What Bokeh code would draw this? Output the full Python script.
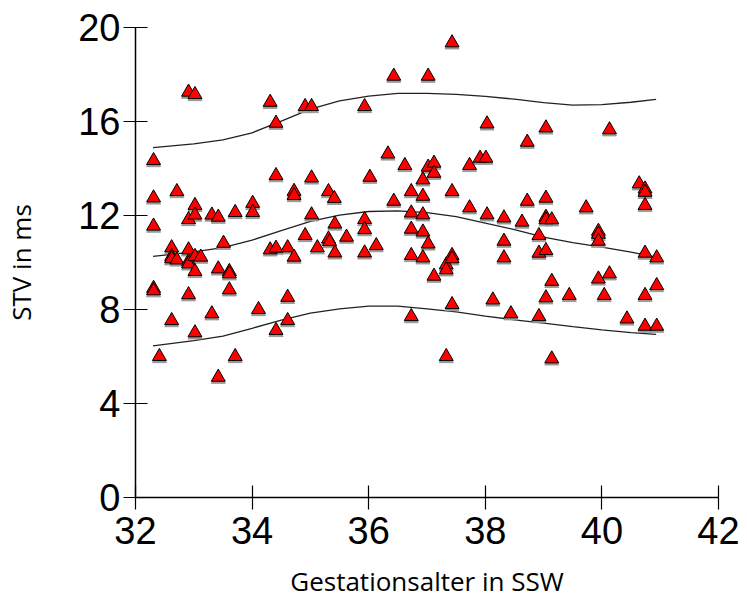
from bokeh.plotting import figure
from bokeh.models import Range1d, FixedTicker, ColumnDataSource
from bokeh.transform import dodge
from bokeh.embed import file_html
from bokeh.resources import INLINE

# Gestational age (SSW) and STV (ms) of each measurement
age = [32.31, 32.31, 32.31, 32.31, 32.31, 32.41, 32.62, 32.62, 32.62, 32.62,
       32.71, 32.71, 32.91, 32.91, 32.91, 32.91, 32.91, 32.91, 33.02, 33.02,
       33.02, 33.02, 33.02, 33.02, 33.12, 33.31, 33.31, 33.42, 33.42, 33.42,
       33.51, 33.61, 33.61, 33.61, 33.71, 33.71, 34.01, 34.01, 34.11, 34.31,
       34.31, 34.41, 34.41, 34.41, 34.41, 34.61, 34.61, 34.61, 34.72, 34.72,
       34.72, 34.91, 34.91, 35.02, 35.02, 35.02, 35.12, 35.31, 35.31, 35.33,
       35.41, 35.42, 35.42, 35.62, 35.93, 35.93, 35.93, 35.93, 36.02, 36.13,
       36.33, 36.43, 36.43, 36.62, 36.73, 36.73, 36.73, 36.73, 36.73, 36.93,
       36.93, 36.93, 36.93, 36.93, 37.02, 37.02, 37.02, 37.12, 37.12, 37.12,
       37.33, 37.33, 37.33, 37.43, 37.43, 37.43, 37.43, 37.43, 37.73, 37.73,
       37.91, 38.01, 38.03, 38.03, 38.13, 38.32, 38.32, 38.32, 38.44, 38.63,
       38.72, 38.72, 38.92, 38.92, 38.92, 39.04, 39.04, 39.04, 39.04, 39.04,
       39.04, 39.14, 39.14, 39.14, 39.44, 39.73, 39.94, 39.94, 39.94, 39.94,
       40.04, 40.13, 40.13, 40.43, 40.64, 40.74, 40.74, 40.74, 40.74, 40.74,
       40.74, 40.94, 40.94, 40.94]
stv = [14.34, 12.75, 11.55, 8.90, 8.80, 6.00, 10.63, 10.26, 10.16, 7.53,
       13.02, 10.11, 17.25, 11.83, 10.54, 10.05, 9.94, 8.63, 17.15, 12.43,
       12.02, 10.26, 9.62, 7.01, 10.23, 12.02, 7.82, 11.93, 9.73, 5.12,
       10.82, 9.62, 9.52, 8.84, 12.13, 6.00, 12.52, 12.13, 8.00, 16.82,
       10.54, 15.93, 13.70, 10.61, 7.11, 10.63, 8.52, 7.53, 13.03, 12.85,
       10.23, 16.64, 11.15, 16.64, 13.60, 12.03, 10.63, 13.02, 11.00, 10.89,
       12.73, 11.64, 10.41, 11.08, 16.64, 11.83, 11.40, 10.41, 13.63, 10.72,
       14.62, 17.93, 12.61, 14.13, 13.02, 12.11, 11.42, 10.30, 7.70, 13.52,
       12.82, 12.03, 11.30, 10.20, 17.93, 14.06, 10.79, 14.23, 13.80, 9.42,
       9.90, 9.69, 6.00, 19.35, 13.02, 10.30, 10.16, 8.21, 14.13, 12.33,
       14.44, 14.44, 15.90, 12.03, 8.41, 11.90, 10.91, 10.20, 7.82, 11.72,
       15.12, 12.61, 11.15, 10.40, 7.70, 15.73, 12.74, 11.93, 11.82, 10.51,
       8.50, 11.82, 9.20, 5.90, 8.60, 12.33, 11.33, 11.20, 10.91, 9.30,
       8.60, 15.65, 9.52, 7.60, 13.35, 13.13, 12.99, 12.43, 10.40, 8.60,
       7.29, 10.20, 9.02, 7.29]

# Reference curves (upper, median, lower)
curve_age = [32.3, 33.0, 33.5, 34.0, 34.5, 35.0, 35.5, 36.0, 36.5, 37.0,
             37.5, 38.0, 38.5, 39.0, 39.5, 40.0, 40.5, 40.93]
curve_upper = [14.89, 15.05, 15.22, 15.52, 16.02, 16.53, 16.88, 17.08, 17.2, 17.2,
               17.15, 17.07, 16.95, 16.8, 16.7, 16.72, 16.82, 16.94]
curve_mid = [10.26, 10.45, 10.63, 10.95, 11.36, 11.75, 12.02, 12.17, 12.2, 12.12,
             11.95, 11.68, 11.4, 11.08, 10.85, 10.65, 10.44, 10.23]
curve_lower = [6.45, 6.68, 6.87, 7.2, 7.55, 7.85, 8.03, 8.14, 8.14, 8.03,
               7.9, 7.72, 7.56, 7.42, 7.27, 7.13, 7.02, 6.94]

x_ticks = [32, 34, 36, 38, 40, 42]
y_ticks = [0, 4, 8, 12, 16, 20]

p = figure(width=747, height=608, output_backend="svg", toolbar_location=None,
           x_range=Range1d(32, 42), y_range=Range1d(0, 20))
p.min_border_left = 134
p.min_border_right = 29
p.min_border_top = 27
p.min_border_bottom = 111
p.outline_line_color = None
p.xgrid.visible = False
p.ygrid.visible = False
p.background_fill_color = "white"
p.border_fill_color = "white"

for ys in (curve_upper, curve_mid, curve_lower):
    p.line(curve_age, ys, line_color="#222222", line_width=1.3)

src = ColumnDataSource(data=dict(x=age, y=stv))
# soft grey drop shadow under each marker
p.scatter("x", dodge("y", -0.09, range=p.y_range), source=src, marker="triangle",
          size=14, fill_color="#9a9a9a", line_color="#9a9a9a", line_width=1)
p.scatter("x", "y", source=src, marker="triangle", size=14,
          fill_color="#FF0000", line_color="black", line_width=1)

for ax, ticks in ((p.xaxis[0], x_ticks), (p.yaxis[0], y_ticks)):
    ax.ticker = FixedTicker(ticks=ticks)
    ax.minor_tick_line_color = None
    ax.major_tick_in = 12
    ax.major_tick_out = 12
    ax.axis_line_color = "black"
    ax.axis_line_width = 1.5
    ax.major_tick_line_color = "black"
    ax.major_tick_line_width = 1.2
    ax.major_label_text_font = "Liberation Sans"
    ax.major_label_text_font_size = "38px"
    ax.major_label_text_color = "black"
    ax.axis_label_text_font = "Open Sans"
    ax.axis_label_text_font_size = "26px"
    ax.axis_label_text_font_style = "normal"
    ax.axis_label_text_color = "black"

p.xaxis.axis_label = "Gestationsalter in SSW"
p.yaxis.axis_label = "STV in ms"
p.xaxis.major_label_standoff = 7
p.yaxis.major_label_standoff = 3
p.xaxis.axis_label_standoff = 16
p.yaxis.axis_label_standoff = 36

open("out.html", "w").write(file_html(p, INLINE))
